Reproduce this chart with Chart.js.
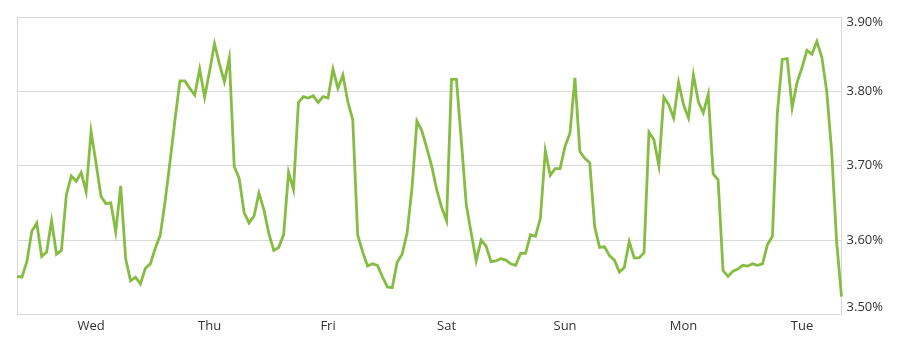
<!DOCTYPE html>
<html>
<head>
<meta charset="utf-8">
<script src="https://cdn.jsdelivr.net/npm/chart.js@4"></script>
<style>
  html, body { margin: 0; padding: 0; background: #fff; }
  #wrap { width: 900px; height: 350px; }
</style>
</head>
<body>
<div id="wrap"><canvas id="myChart"></canvas></div>
<script>
// hourly readings, Tue 21:00 -> next Tue 20:00
const startDay = 'Tue';
const startHour = 21;
const dayNames = ['Mon', 'Tue', 'Wed', 'Thu', 'Fri', 'Sat', 'Sun'];

const rates = [
  3.551, 3.550, 3.571, 3.612, 3.623, 3.578, 3.584, 3.626, 3.581, 3.586,
  3.661, 3.686, 3.679, 3.691, 3.665, 3.746, 3.704, 3.659, 3.649, 3.650,
  3.611, 3.673, 3.575, 3.545, 3.550, 3.541, 3.562, 3.568, 3.589, 3.606,
  3.652, 3.706, 3.762, 3.814, 3.814, 3.804, 3.795, 3.830, 3.792, 3.827,
  3.864, 3.837, 3.813, 3.845, 3.699, 3.683, 3.637, 3.623, 3.632, 3.663,
  3.641, 3.609, 3.586, 3.590, 3.607, 3.691, 3.668, 3.785, 3.793, 3.791,
  3.794, 3.785, 3.793, 3.791, 3.830, 3.804, 3.822, 3.786, 3.762, 3.607,
  3.584, 3.565, 3.568, 3.566, 3.551, 3.537, 3.536, 3.570, 3.581, 3.609,
  3.670, 3.760, 3.747, 3.724, 3.699, 3.668, 3.644, 3.626, 3.816, 3.816,
  3.733, 3.647, 3.609, 3.572, 3.600, 3.592, 3.571, 3.572, 3.575, 3.573,
  3.568, 3.566, 3.582, 3.582, 3.607, 3.605, 3.629, 3.720, 3.687, 3.696,
  3.696, 3.726, 3.744, 3.818, 3.719, 3.710, 3.704, 3.618, 3.590, 3.591,
  3.579, 3.573, 3.557, 3.563, 3.598, 3.576, 3.576, 3.583, 3.745, 3.735,
  3.700, 3.792, 3.782, 3.764, 3.812, 3.782, 3.764, 3.822, 3.786, 3.771,
  3.796, 3.689, 3.681, 3.559, 3.551, 3.558, 3.561, 3.566, 3.565, 3.568,
  3.566, 3.568, 3.594, 3.605, 3.771, 3.843, 3.844, 3.778, 3.812, 3.832,
  3.855, 3.850, 3.867, 3.846, 3.800, 3.719, 3.598, 3.524
];

const yTicks = [3.5, 3.6, 3.7, 3.8, 3.9];

// build hourly category labels like "Wed 12:00"
const labels = [];
let d = dayNames.indexOf(startDay);
let h = startHour;
for (let i = 0; i < rates.length; i++) {
  labels.push(dayNames[d] + ' ' + String(h).padStart(2, '0') + ':00');
  h++;
  if (h === 24) { h = 0; d = (d + 1) % 7; }
}

const gridColor = '#d9d9d9';
const textColor = '#333333';
const tickFont = { family: 'Open Sans', size: 13 };

// Excel-style: first/last y label pulled inside the plot box
const edgeLabels = {
  id: 'edgeLabels',
  afterDraw(chart) {
    const y = chart.scales.y;
    const ctx = chart.ctx;
    ctx.save();
    ctx.font = '13px "Open Sans"';
    ctx.fillStyle = textColor;
    ctx.textAlign = 'left';
    ctx.textBaseline = 'middle';
    const x = y.left + y.options.ticks.padding;
    const top = yTicks[yTicks.length - 1];
    const bot = yTicks[0];
    ctx.fillText(top.toFixed(2) + '%', x, y.getPixelForValue(top) + 5);
    ctx.fillText(bot.toFixed(2) + '%', x, y.getPixelForValue(bot) - 7.5);
    ctx.restore();
  }
};

const ctx = document.getElementById('myChart').getContext('2d');
const myChart = new Chart(ctx, {
  type: 'line',
  data: {
    labels: labels,
    datasets: [
      {
        data: rates,
        borderColor: '#86bc42',
        borderWidth: 2.8,
        pointRadius: 0,
        tension: 0,
        fill: false,
      },
    ],
  },
  options: {
    responsive: true,
    maintainAspectRatio: false,
    animation: false,
    layout: { padding: { left: 17, right: 12, top: 17, bottom: 12 } },
    plugins: {
      legend: { display: false },
      tooltip: { enabled: false },
    },
    scales: {
      x: {
        type: 'category',
        offset: false,
        grid: {
          drawTicks: false,
          color: (c) => (c.index === 0 ? gridColor : 'transparent'),
        },
        border: { display: true, color: gridColor },
        ticks: {
          autoSkip: false,
          maxRotation: 0,
          padding: 4,
          color: textColor,
          font: tickFont,
          callback: function (val, i) {
            const l = labels[i];
            return l.endsWith(' 12:00') ? l.split(' ')[0] : '';
          },
        },
      },
      y: {
        position: 'right',
        min: 3.5,
        max: 3.9,
        afterBuildTicks: (s) => { s.ticks = yTicks.map((v) => ({ value: v })); },
        grid: { color: gridColor, drawTicks: false },
        border: { display: true, color: gridColor },
        ticks: {
          padding: 5,
          font: tickFont,
          color: (c) => (c.index === 0 || c.index === yTicks.length - 1 ? 'transparent' : textColor),
          callback: (v) => v.toFixed(2) + '%',
        },
      },
    },
  },
  plugins: [edgeLabels],
});
</script>
</body>
</html>
